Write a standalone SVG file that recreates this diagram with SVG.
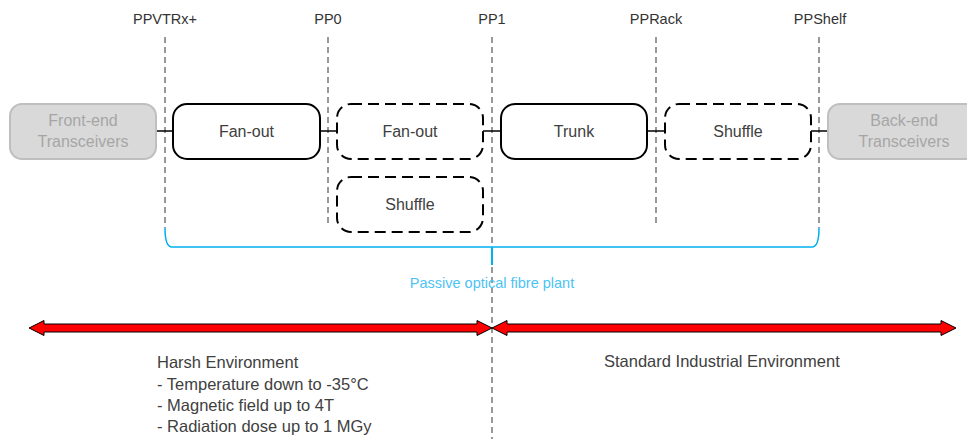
<svg xmlns="http://www.w3.org/2000/svg" width="967" height="439" viewBox="0 0 967 439">
<style>
text{font-family:"Liberation Sans",Arial,sans-serif;fill:#404040}
.lbl{font-size:16px;text-anchor:middle}
.pp{font-size:14.5px;text-anchor:middle;fill:#333}
.gbox{fill:#d9d9d9;stroke:#bfbfbf;stroke-width:2}
.gtxt{fill:#a6a6a6;font-size:16px;text-anchor:middle}
.sbox{fill:#fff;stroke:#000;stroke-width:2}
.dbox{fill:#fff;stroke:#000;stroke-width:2;stroke-dasharray:11 6}
.vd{stroke:#333;stroke-width:1;stroke-dasharray:6 4;fill:none}
.conn{stroke:#000;stroke-width:1.5}
.env{font-size:16.5px}
</style>
<rect width="967" height="439" fill="#fff"/>
<g id="ref-lines">
<line class="vd" x1="165" y1="37" x2="165" y2="228"/>
<line class="vd" x1="328" y1="37" x2="328" y2="227"/>
<line class="vd" x1="492" y1="37" x2="492" y2="439"/>
<line class="vd" x1="656" y1="37" x2="656" y2="227"/>
<line class="vd" x1="819" y1="37" x2="819" y2="228"/>
<text class="pp" x="165" y="24">PPVTRx+</text>
<text class="pp" x="328" y="24">PP0</text>
<text class="pp" x="492" y="24">PP1</text>
<text class="pp" x="656" y="24">PPRack</text>
<text class="pp" x="820" y="24">PPShelf</text>
</g>
<g id="connectors">
<line class="conn" x1="156" y1="131" x2="173" y2="131"/>
<line class="conn" x1="320" y1="131" x2="337" y2="131"/>
<line class="conn" x1="483" y1="131" x2="501" y2="131"/>
<line class="conn" x1="647" y1="131" x2="665" y2="131"/>
<line class="conn" x1="811" y1="131" x2="828" y2="131"/>
</g>
<g id="front-end">
<rect class="gbox" x="10" y="104" width="146" height="55" rx="12"/>
<text class="gtxt" x="83" y="126">Front-end</text>
<text class="gtxt" x="83" y="147">Transceivers</text>
</g>
<g id="fanout1">
<rect class="sbox" x="173" y="104" width="147" height="55" rx="14"/>
<text class="lbl" x="246.5" y="137">Fan-out</text>
</g>
<g id="fanout2">
<rect class="dbox" x="337" y="104" width="146" height="55" rx="14"/>
<text class="lbl" x="410" y="137">Fan-out</text>
</g>
<g id="shuffle1">
<rect class="dbox" x="337" y="177" width="146" height="55" rx="14"/>
<text class="lbl" x="410" y="210">Shuffle</text>
</g>
<g id="trunk">
<rect class="sbox" x="501" y="104" width="146" height="55" rx="14"/>
<text class="lbl" x="574" y="137">Trunk</text>
</g>
<g id="shuffle2">
<rect class="dbox" x="665" y="104" width="146" height="55" rx="14"/>
<text class="lbl" x="738" y="137">Shuffle</text>
</g>
<g id="back-end">
<rect class="gbox" x="828" y="104" width="150" height="55" rx="12"/>
<text class="gtxt" x="904" y="126">Back-end</text>
<text class="gtxt" x="904" y="147">Transceivers</text>
</g>
<g id="fibre-plant">
<path d="M165 228 Q165 247 172 247 L812 247 Q819 247 819 228" fill="none" stroke="#00b0f0" stroke-width="1.5"/>
<line x1="492" y1="247" x2="492" y2="265" stroke="#00b0f0" stroke-width="2"/>
<text x="492" y="288" text-anchor="middle" style="font-size:14.5px;fill:#4dc3f5">Passive optical fibre plant</text>
</g>
<g id="environments">
<path d="M29 328 L44 320.5 L44 324 L477 324 L477 320.5 L492 328 L477 335.5 L477 332 L44 332 L44 335.5 Z" fill="#ff0000" stroke="#000" stroke-width="1"/>
<path d="M492 328 L507 320.5 L507 324 L941 324 L941 320.5 L956 328 L941 335.5 L941 332 L507 332 L507 335.5 Z" fill="#ff0000" stroke="#000" stroke-width="1"/>
<text class="env" x="157" y="368">Harsh Environment</text>
<text class="env" x="157" y="390">- Temperature down to -35°C</text>
<text class="env" x="157" y="411">- Magnetic field up to 4T</text>
<text class="env" x="157" y="432">- Radiation dose up to 1 MGy</text>
<text class="env" x="604" y="367">Standard Industrial Environment</text>
</g>
</svg>
